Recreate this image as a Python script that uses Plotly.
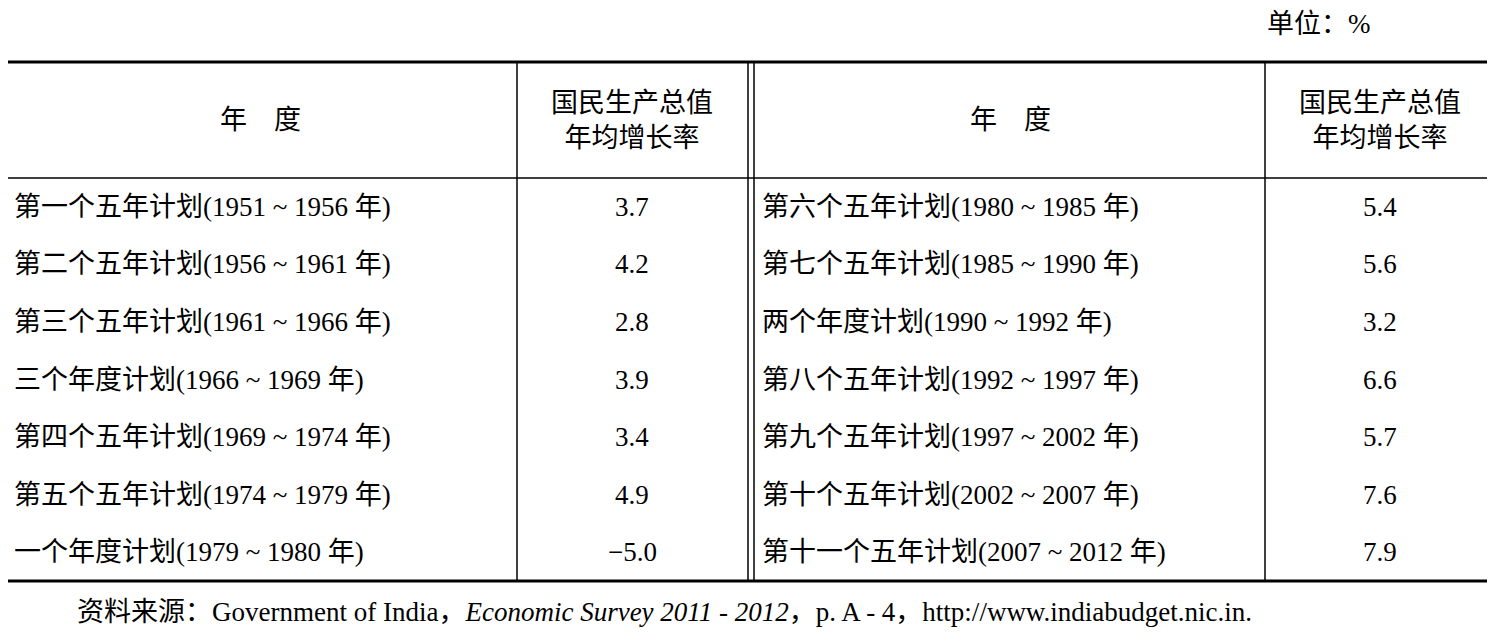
import plotly.graph_objects as go

# left half of the table
plans_left = ["第一个五年计划(1951 ~ 1956 年)", "第二个五年计划(1956 ~ 1961 年)",
              "第三个五年计划(1961 ~ 1966 年)", "三个年度计划(1966 ~ 1969 年)",
              "第四个五年计划(1969 ~ 1974 年)", "第五个五年计划(1974 ~ 1979 年)",
              "一个年度计划(1979 ~ 1980 年)"]
growth_left = [3.7, 4.2, 2.8, 3.9, 3.4, 4.9, -5.0]

# right half of the table
plans_right = ["第六个五年计划(1980 ~ 1985 年)", "第七个五年计划(1985 ~ 1990 年)",
               "两个年度计划(1990 ~ 1992 年)", "第八个五年计划(1992 ~ 1997 年)",
               "第九个五年计划(1997 ~ 2002 年)", "第十个五年计划(2002 ~ 2007 年)",
               "第十一个五年计划(2007 ~ 2012 年)"]
growth_right = [5.4, 5.6, 3.2, 6.6, 5.7, 7.6, 7.9]

head_year = "年　度"
head_value = "国民生产总值<br>年均增长率"
unit = "单位：%"
source = ("资料来源：Government of India，<i>Economic Survey 2011 - 2012</i>，"
          "p. A - 4，http://www.indiabudget.nic.in.")

W, H = 1495, 640
OFF = 8  # page body margin, so axis units match window pixels
font = dict(family="Liberation Serif, Noto Sans CJK SC", size=27, color="black")

fig = go.Figure()
fig.add_trace(go.Scatter(x=[OFF, W + OFF], y=[OFF, H + OFF], mode="markers",
                         marker=dict(opacity=0), hoverinfo="skip", showlegend=False))

def fmt(v):
    return ("−" if v < 0 else "") + "%.1f" % abs(v)

row_top, head_bot, bottom = 62, 178, 581
row_h = (bottom - head_bot) / 7
ann = []
for i in range(7):
    yc = head_bot + row_h * (i + 0.5)
    ann.append(dict(x=12, y=yc, text=plans_left[i], xanchor="left"))
    ann.append(dict(x=632, y=yc, text=fmt(growth_left[i]), xanchor="center"))
    ann.append(dict(x=760, y=yc, text=plans_right[i], xanchor="left"))
    ann.append(dict(x=1380, y=yc, text=fmt(growth_right[i]), xanchor="center"))

hy = (row_top + head_bot) / 2
ann += [dict(x=260, y=hy, text=head_year, xanchor="center"),
        dict(x=632, y=hy, text=head_value, xanchor="center"),
        dict(x=1010, y=hy, text=head_year, xanchor="center"),
        dict(x=1380, y=hy, text=head_value, xanchor="center"),
        dict(x=1265, y=24, text=unit, xanchor="left"),
        dict(x=75, y=612, text=source, xanchor="left")]
for a in ann:
    a.update(xref="x", yref="y", showarrow=False, yanchor="middle", font=font)

lc = "black"
shapes = [
    dict(type="line", x0=0, x1=W + OFF, y0=row_top, y1=row_top, line=dict(color=lc, width=3)),
    dict(type="line", x0=0, x1=W + OFF, y0=head_bot, y1=head_bot, line=dict(color=lc, width=1.5)),
    dict(type="line", x0=0, x1=W + OFF, y0=bottom, y1=bottom, line=dict(color=lc, width=3)),
    dict(type="line", x0=517, x1=517, y0=row_top, y1=bottom, line=dict(color=lc, width=1.5)),
    dict(type="line", x0=748, x1=748, y0=row_top, y1=bottom, line=dict(color=lc, width=1.5)),
    dict(type="line", x0=754, x1=754, y0=row_top, y1=bottom, line=dict(color=lc, width=1.5)),
    dict(type="line", x0=1265, x1=1265, y0=row_top, y1=bottom, line=dict(color=lc, width=1.5)),
]
for s in shapes:
    s.update(xref="x", yref="y")

fig.update_layout(width=W, height=H, margin=dict(l=0, r=0, t=0, b=0),
                  paper_bgcolor="white", plot_bgcolor="white",
                  annotations=ann, shapes=shapes,
                  xaxis=dict(range=[OFF, W + OFF], visible=False, fixedrange=True),
                  yaxis=dict(range=[H + OFF, OFF], visible=False, fixedrange=True))
fig.write_html("out.html")
